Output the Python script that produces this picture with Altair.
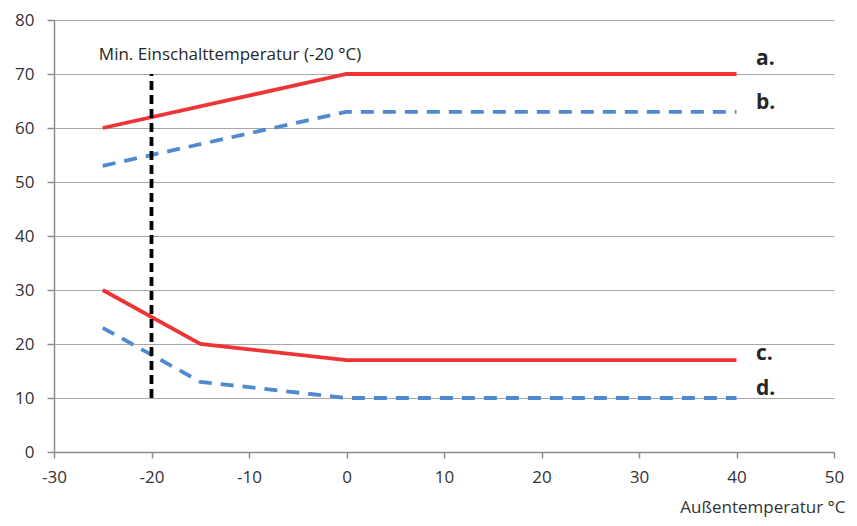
import altair as alt
import pandas as pd

# Series data (x = outside temperature °C, y = value)
x_a = [-25, 0, 40]
y_a = [60, 70, 70]
x_b = [-25, 0, 40]
y_b = [53, 63, 63]
x_c = [-25, -15, 0, 40]
y_c = [30, 20, 17, 17]
x_d = [-25, -15, 0, 40]
y_d = [23, 13, 10, 10]

# End labels
end_labels = ["a.", "b.", "c.", "d."]
end_label_x = [42, 42, 42, 42]
end_label_y = [72.8, 64.6, 18.2, 11.7]

# Min switch-on temperature marker
min_x = [-20]
min_y_lo = [10]
min_y_hi = [70]
min_text = ["Min. Einschalttemperatur (-20 °C)"]
min_text_x = [-25.4]
min_text_y = [73.6]

FONT = "Open Sans"
RED = "#ee3434"
BLUE = "#4f8acf"
TXT = "#333333"

def series_df(name, xs, ys):
    return pd.DataFrame({"series": name, "x": xs, "y": ys})

solid_df = pd.concat([series_df("a", x_a, y_a), series_df("c", x_c, y_c)])
dashed_df = pd.concat([series_df("b", x_b, y_b), series_df("d", x_d, y_d)])

xscale = alt.Scale(domain=[-30, 50], nice=False, zero=False)
yscale = alt.Scale(domain=[0, 80], nice=False)

xaxis = alt.Axis(values=list(range(-30, 51, 10)), grid=False, title="Außentemperatur °C",
                 labelExpr="replace(datum.label, '−', '-')", labelFlush=False, labelOverlap=False,
                 titleAnchor="end", titleAlign="right", titleBaseline="middle", titleY=55, titleX=791,
                 titleFontWeight="normal", titleFontSize=17, titleColor=TXT, titleFont=FONT,
                 labelFontSize=17, labelColor=TXT, labelFont=FONT, labelPadding=11,
                 tickSize=6, tickColor="#8c8c8c", domainColor="#8c8c8c")
yaxis = alt.Axis(values=list(range(0, 81, 10)), grid=True, gridColor="#a6a6a6", title=None,
                 labelFlush=False, labelOverlap=False,
                 labelFontSize=17, labelColor=TXT, labelFont=FONT, labelPadding=13,
                 tickSize=7, tickColor="#8c8c8c", domainColor="#8c8c8c")

solid = alt.Chart(solid_df).mark_line(color=RED, strokeWidth=3.8).encode(
    x=alt.X("x:Q", scale=xscale, axis=xaxis),
    y=alt.Y("y:Q", scale=yscale, axis=yaxis),
    detail="series:N",
)
dashed = alt.Chart(dashed_df).mark_line(color=BLUE, strokeWidth=3.8, strokeDash=[13, 9]).encode(
    x=alt.X("x:Q", scale=xscale),
    y=alt.Y("y:Q", scale=yscale),
    detail="series:N",
)

rule_df = pd.DataFrame({"x": min_x, "y": min_y_lo, "y2": min_y_hi})
rule = alt.Chart(rule_df).mark_rule(color="black", strokeWidth=3.8, strokeDash=[9, 5]).encode(
    x=alt.X("x:Q", scale=xscale), y=alt.Y("y:Q", scale=yscale), y2="y2:Q"
)

mtext_df = pd.DataFrame({"t": min_text, "x": min_text_x, "y": min_text_y})
mtext = alt.Chart(mtext_df).mark_text(align="left", baseline="middle", font=FONT,
                                      fontSize=17, color="#262626").encode(
    x=alt.X("x:Q", scale=xscale), y=alt.Y("y:Q", scale=yscale), text="t:N"
)

lab_df = pd.DataFrame({"t": end_labels, "x": end_label_x, "y": end_label_y})
labs = alt.Chart(lab_df).mark_text(align="left", baseline="middle", font=FONT,
                                   fontSize=21, fontWeight="bold", color="#262626").encode(
    x=alt.X("x:Q", scale=xscale), y=alt.Y("y:Q", scale=yscale), text="t:N"
)

chart = alt.layer(solid, dashed, rule, mtext, labs).properties(
    width=780, height=432,
    autosize=alt.AutoSizeParams(type="none"),
    padding={"left": 46, "top": 12, "right": 14, "bottom": 65},
).configure_view(stroke=None).configure_axis(domainWidth=1.5, tickWidth=1.5, gridWidth=1.2)

chart.save("out.html", embed_options={"renderer": "svg", "actions": False})
